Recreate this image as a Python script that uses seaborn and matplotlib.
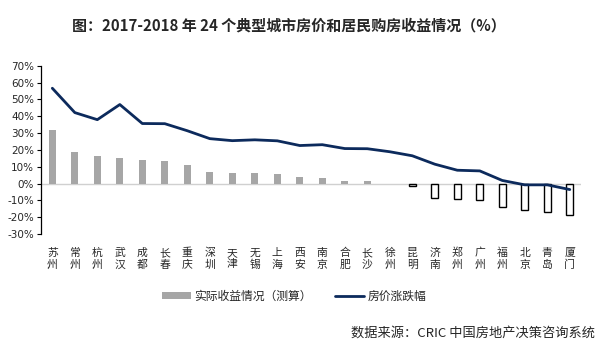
import matplotlib
matplotlib.use("Agg")
import matplotlib.pyplot as plt
import seaborn as sns
import pandas as pd
import numpy as np
from matplotlib.patches import Patch
from matplotlib.lines import Line2D

cities = ["苏州", "常州", "杭州", "武汉", "成都", "长春", "重庆", "深圳", "天津", "无锡", "上海", "西安",
          "南京", "合肥", "长沙", "徐州", "昆明", "济南", "郑州", "广州", "福州", "北京", "青岛", "厦门"]
actual_return = [32.0, 18.6, 16.4, 15.0, 14.0, 13.4, 11.0, 6.7, 6.1, 6.1, 5.5, 3.7,
                 3.0, 1.3, 1.2, -0.4, -1.7, -8.6, -9.2, -9.8, -14.0, -15.9, -17.0, -18.9]
price_change = [56.7, 42.2, 38.0, 47.0, 35.7, 35.6, 31.4, 26.7, 25.5, 26.0, 25.4, 22.6,
                23.1, 20.8, 20.7, 18.9, 16.5, 11.5, 7.9, 7.5, 1.8, -0.8, -0.8, -3.6]
yticks = [-30, -20, -10, 0, 10, 20, 30, 40, 50, 60, 70]

sns.set_theme(style="white")
plt.rcParams['font.family'] = ['Noto Sans CJK SC', 'DejaVu Sans']
plt.rcParams['axes.unicode_minus'] = False

df = pd.DataFrame({"city": cities, "actual": actual_return, "price": price_change})
df["label"] = [c[0] + "\n" + c[1] for c in cities]

fig = plt.figure(figsize=(6.04, 3.45), dpi=100)
ax = fig.add_axes([0.068, 0.322, 0.894, 0.487])

bar_gray = "#a6a6a6"
line_col = "#0c2a5c"

sns.barplot(data=df, x="city", y="actual", ax=ax, color=bar_gray, width=0.32,
            saturation=1, zorder=2)
for patch, v in zip(ax.patches, actual_return):
    if v < -1:
        patch.set_facecolor("white")
        patch.set_edgecolor("black")
        patch.set_linewidth(1.0)
    else:
        patch.set_edgecolor("none")

sns.lineplot(x=np.arange(len(cities)), y=df["price"], ax=ax, color=line_col,
             linewidth=2.0, zorder=3)

ax.axhline(0, color="#d0d0d0", linewidth=1.0, zorder=1)
ax.set_xlim(-0.5, len(cities) - 0.5)
ax.set_ylim(-30, 70)
ax.set_yticks(yticks)
ax.set_yticklabels([f"{t}%" for t in yticks], fontsize=7.5, family=['DejaVu Sans'])
ax.set_xticks(np.arange(len(cities)))
ax.set_xticklabels(df["label"], fontsize=7.8, linespacing=1.2)
ax.tick_params(axis="x", length=0, pad=10)
ax.tick_params(axis="y", length=3, width=0.8, direction="out", left=True, pad=2, color="black")
ax.set_xlabel("")
ax.set_ylabel("")
for s in ["top", "right", "bottom"]:
    ax.spines[s].set_visible(False)
ax.spines["left"].set_color("black")
ax.spines["left"].set_linewidth(0.9)

fig.text(0.479, 0.925, "图：2017-2018 年 24 个典型城市房价和居民购房收益情况（%）",
         ha="center", va="center", fontsize=10.8, fontweight="bold")

handles = [Patch(facecolor=bar_gray, edgecolor="none"),
           Line2D([0], [0], color=line_col, linewidth=2)]
fig.legend(handles, ["实际收益情况（测算）", "房价涨跌幅"], loc="center",
           bbox_to_anchor=(0.487, 0.142), ncol=2, frameon=False, fontsize=8.5,
           handlelength=2.4, handleheight=0.6, columnspacing=2.0, handletextpad=0.3)

fig.text(0.985, 0.035, "数据来源：CRIC 中国房地产决策咨询系统", ha="right", va="center", fontsize=9.5)

fig.savefig("out.png", dpi=100, facecolor="white")
